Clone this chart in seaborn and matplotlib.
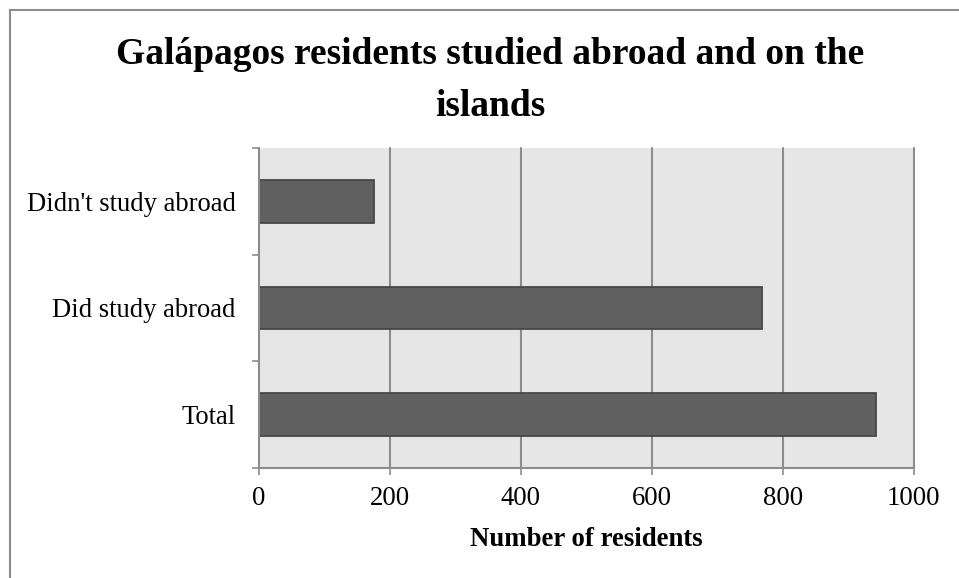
import matplotlib
matplotlib.use("Agg")
import matplotlib.pyplot as plt
import seaborn as sns
import pandas as pd
from matplotlib.patches import Rectangle

categories = ["Didn't study abroad", "Did study abroad", "Total"]
residents = [175, 768, 943]
x_ticks = [0, 200, 400, 600, 800, 1000]
title_lines = ["Galápagos residents studied abroad and on the", "islands"]

sns.set_style("white")
plt.rcParams["font.family"] = ["Liberation Serif", "DejaVu Serif"]
plt.rcParams["text.color"] = "black"
plt.rcParams["axes.labelcolor"] = "black"
plt.rcParams["xtick.color"] = "black"
plt.rcParams["ytick.color"] = "black"

df = pd.DataFrame({"category": categories, "residents": residents})

fig = plt.figure(figsize=(9.59, 5.78), dpi=100)
ax = fig.add_axes([259 / 959, 1 - 467.7 / 578, (913.7 - 259) / 959, (467.7 - 148) / 578])
ax.set_facecolor("#e6e6e6")

grid_c = "#8c8c8c"
for x in x_ticks[1:]:
    ax.axvline(x, color=grid_c, lw=1.5, zorder=0, clip_on=False)

sns.barplot(data=df, x="residents", y="category", orient="h", width=0.4,
            color="#606060", edgecolor="#474747", linewidth=1.3,
            saturation=1, ax=ax, zorder=2)

ax.set_xlim(0, 1000)
ax.set_ylim(2.5, -0.5)
ax.set_xticks(x_ticks)
ax.set_xticklabels([str(v) for v in x_ticks], fontsize=19.3)
ax.tick_params(axis="x", bottom=True, length=5, width=1.2, color=grid_c,
               labelcolor="black", pad=8, direction="out")

ax.set_yticks(range(len(categories)))
ax.set_yticklabels(categories, fontsize=19.2)
ax.set_yticks([-0.5, 0.5, 1.5, 2.5], minor=True)
ax.tick_params(axis="y", which="major", length=0, pad=17, labelcolor="black")
ax.tick_params(axis="y", which="minor", left=True, length=5, width=1.2,
               color=grid_c, direction="out")

ax.set_ylabel("")
ax.set_xlabel("Number of residents", fontsize=19.3, fontweight="bold",
              labelpad=12, color="black")

for side in ["top", "right"]:
    ax.spines[side].set_visible(False)
for side in ["left", "bottom"]:
    ax.spines[side].set_color(grid_c)
    ax.spines[side].set_linewidth(1.5)

for line, y_px in zip(title_lines, [63.5, 116.5]):
    fig.text(490 / 959, 1 - y_px / 578, line, ha="center", va="baseline",
             fontsize=27, fontweight="bold", color="black")

fig.patches.append(Rectangle((9.5 / 959, -0.05), 1.2, 1 - 9.5 / 578 + 0.05,
                             transform=fig.transFigure, fill=False,
                             edgecolor=grid_c, lw=1.5))

fig.savefig("out.png", dpi=100)
